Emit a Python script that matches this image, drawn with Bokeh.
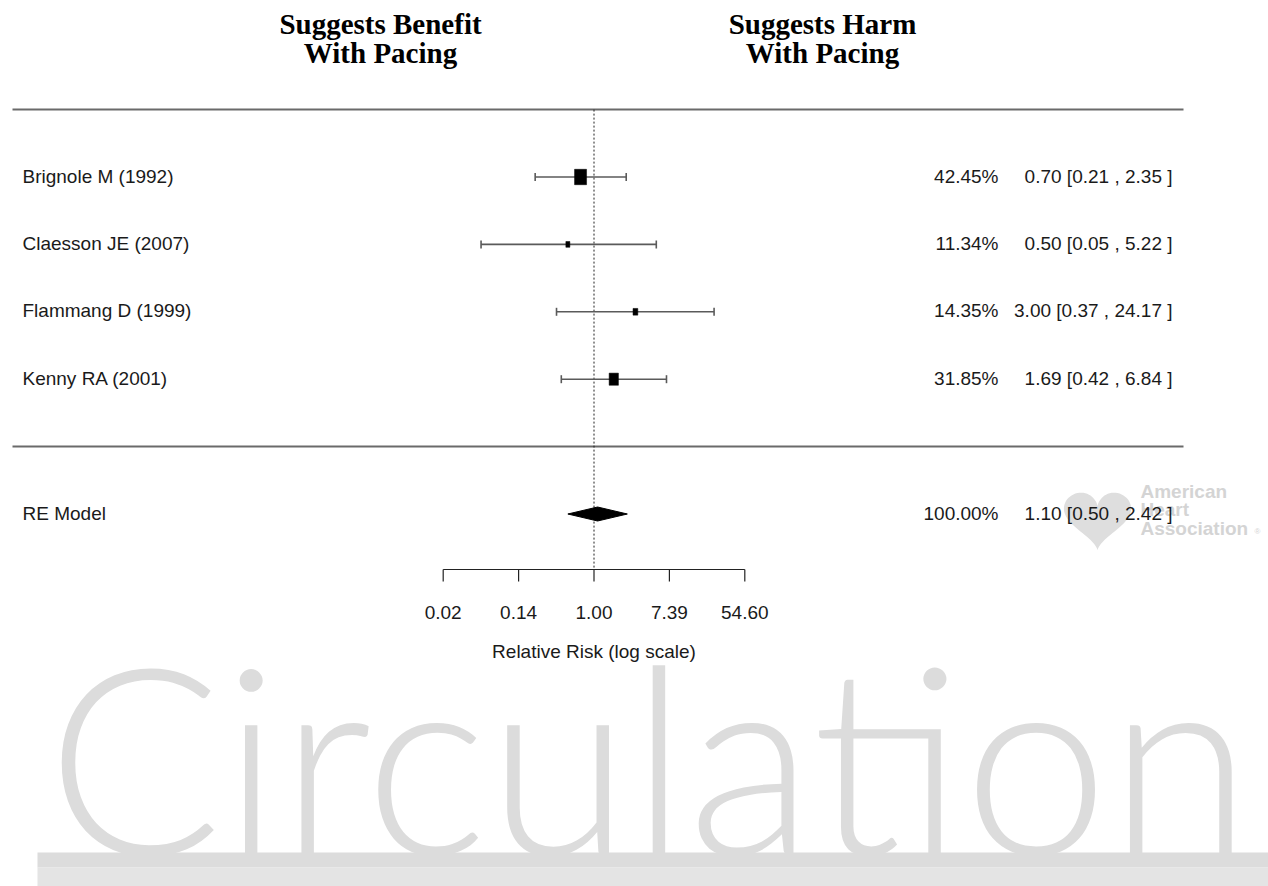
import numpy as np
from bokeh.plotting import figure
from bokeh.models import Range1d
from bokeh.core.properties import value
from bokeh.embed import file_html
from bokeh.resources import INLINE

# ---------------- data ----------------
studies = ["Brignole M (1992)", "Claesson JE (2007)", "Flammang D (1999)", "Kenny RA (2001)"]
weights = [42.45, 11.34, 14.35, 31.85]
rr = [0.70, 0.50, 3.00, 1.69]
ci_low = [0.21, 0.05, 0.37, 0.42]
ci_high = [2.35, 5.22, 24.17, 6.84]

summary_label = "RE Model"
summary_weight = 100.00
summary_rr = 1.10
summary_low = 0.50
summary_high = 2.42

tick_values_log = [-4, -2, 0, 2, 4]
tick_labels = ["0.02", "0.14", "1.00", "7.39", "54.60"]
axis_title = "Relative Risk (log scale)"
header_left = ["Suggests Benefit", "With Pacing"]
header_right = ["Suggests Harm", "With Pacing"]
watermark = "Circulation"
logo_lines = ["American", "Heart", "Association"]

# ---------------- layout helpers (reference pixels -> data units) ----------------
ZERO_PX, PX_PER_LN = 593.5, 37.7
ROW1_PX, ROW_PX = 176.5, 67.4


def X(px):
    return (px - ZERO_PX) / PX_PER_LN


def Y(py):
    return 1 + (py - ROW1_PX) / ROW_PX


def DY(px):
    return px / ROW_PX


rows = list(range(1, len(studies) + 1))
summary_row = len(studies) + 2
sep_rows = [0, len(studies) + 1]

LABEL_FONT = value("Liberation Sans")
LABEL_SIZE = "19px"
HEAD_FONT = value("Liberation Serif")
TXT = "#1a1a1a"

p = figure(width=1268, height=886, x_range=Range1d(X(0), X(1268)),
           y_range=Range1d(Y(886), Y(0)), output_backend="svg",
           toolbar_location=None, x_axis_location=None, y_axis_location=None,
           min_border=0)
p.outline_line_color = None
p.xgrid.visible = False
p.ygrid.visible = False
p.background_fill_color = "white"
p.border_fill_color = "white"

# ---------------- watermark ----------------
p.text(x=[X(46)], y=[Y(753)], text=[watermark], text_font=value("Lato Light, Lato"),
       text_font_size="260px", text_color="#dcdcdc", text_align="left",
       text_baseline="middle")
p.quad(left=[X(37)], right=[X(1270)], top=[Y(852)], bottom=[Y(867)],
       fill_color="#dcdcdc", line_color=None)
p.quad(left=[X(37)], right=[X(1270)], top=[Y(867)], bottom=[Y(890)],
       fill_color="#e4e4e4", line_color=None)

# AHA logo (decoration)
t = np.linspace(0, 2 * np.pi, 120)
hx = 16 * np.sin(t) ** 3
hy = 13 * np.cos(t) - 5 * np.cos(2 * t) - 2 * np.cos(3 * t) - np.cos(4 * t)
p.patch(x=X(1097 + 2.1 * hx), y=Y(516 - 2.0 * hy), fill_color="#dedede", line_color=None)
p.text(x=[X(1140)] * 3, y=[Y(491), Y(509), Y(528)], text=logo_lines,
       text_font=value("Liberation Sans"), text_font_style="bold", text_font_size="19px",
       text_color="#d4d4d4", text_align="left", text_baseline="middle")
p.text(x=[X(1254)], y=[Y(531)], text=["®"], text_font=value("Liberation Sans"),
       text_font_size="8px", text_color="#d4d4d4", text_align="left",
       text_baseline="middle")

# ---------------- headers ----------------
p.text(x=[X(380), X(380)], y=[Y(23.5), Y(52.5)], text=header_left, text_font=HEAD_FONT,
       text_font_style="bold", text_font_size="29px", text_color="black",
       text_align="center", text_baseline="middle")
p.text(x=[X(822), X(822)], y=[Y(23.5), Y(52.5)], text=header_right, text_font=HEAD_FONT,
       text_font_style="bold", text_font_size="29px", text_color="black",
       text_align="center", text_baseline="middle")

# ---------------- separators & reference line ----------------
p.segment(x0=[X(12)] * 2, x1=[X(1183)] * 2, y0=sep_rows, y1=sep_rows,
          line_color="#6a6a6a", line_width=2)
p.segment(x0=[0], x1=[0], y0=[sep_rows[0]], y1=[Y(569)], line_color="#222222",
          line_width=1, line_dash="2 2")

# ---------------- study CIs and boxes ----------------
lo = np.log(ci_low)
hi = np.log(ci_high)
est = np.log(rr)
r = np.array(rows, dtype=float)
EB = "#5a5a5a"
p.segment(x0=lo, x1=hi, y0=r, y1=r, line_color=EB, line_width=1.6)
p.segment(x0=lo, x1=lo, y0=r - DY(4), y1=r + DY(4), line_color=EB, line_width=1.6)
p.segment(x0=hi, x1=hi, y0=r - DY(4), y1=r + DY(4), line_color=EB, line_width=1.6)

w = np.array(weights)
psize = 0.5 + (w - w.min()) / (w.max() - w.min())
p.rect(x=est, y=r, width=8 * psize, height=9.6 * psize + 1, width_units="screen",
       height_units="screen", fill_color="black", line_color="black", line_width=0.5)

# ---------------- summary diamond ----------------
s_lo, s_est, s_hi = np.log(summary_low), np.log(summary_rr), np.log(summary_high)
p.patch(x=[s_lo, s_est, s_hi, s_est], y=[summary_row, summary_row - DY(7), summary_row,
                                         summary_row + DY(7)],
        fill_color="black", line_color="black", line_width=1)

# ---------------- row texts ----------------
all_labels = studies + [summary_label]
all_rows = rows + [summary_row]
all_w = weights + [summary_weight]
all_est = rr + [summary_rr]
all_lo = ci_low + [summary_low]
all_hi = ci_high + [summary_high]
mid = [rw - DY(1) for rw in all_rows]

p.text(x=[X(22)] * len(all_labels), y=mid, text=all_labels, text_font=LABEL_FONT,
       text_font_size=LABEL_SIZE, text_color=TXT, text_align="left",
       text_baseline="middle")
p.text(x=[X(998)] * len(all_labels), y=mid, text=[f"{v:.2f}%" for v in all_w],
       text_font=LABEL_FONT, text_font_size=LABEL_SIZE, text_color=TXT,
       text_align="right", text_baseline="middle")
p.text(x=[X(1172)] * len(all_labels), y=mid,
       text=[f"{e:.2f} [{a:.2f} , {b:.2f} ]" for e, a, b in zip(all_est, all_lo, all_hi)],
       text_font=LABEL_FONT, text_font_size=LABEL_SIZE, text_color=TXT,
       text_align="right", text_baseline="middle")

# ---------------- x axis (log scale) ----------------
ax_y = Y(569)
p.segment(x0=[min(tick_values_log)], x1=[max(tick_values_log)], y0=[ax_y], y1=[ax_y],
          line_color="#222222", line_width=1.2)
p.segment(x0=tick_values_log, x1=tick_values_log, y0=[ax_y] * len(tick_values_log),
          y1=[Y(581)] * len(tick_values_log), line_color="#222222", line_width=1.2)
p.text(x=tick_values_log, y=[Y(612)] * len(tick_values_log), text=tick_labels,
       text_font=LABEL_FONT, text_font_size=LABEL_SIZE, text_color=TXT,
       text_align="center", text_baseline="middle")
p.text(x=[0], y=[Y(651)], text=[axis_title], text_font=LABEL_FONT, text_font_size=LABEL_SIZE,
       text_color=TXT, text_align="center", text_baseline="middle")

open("out.html", "w").write(file_html(p, INLINE))
